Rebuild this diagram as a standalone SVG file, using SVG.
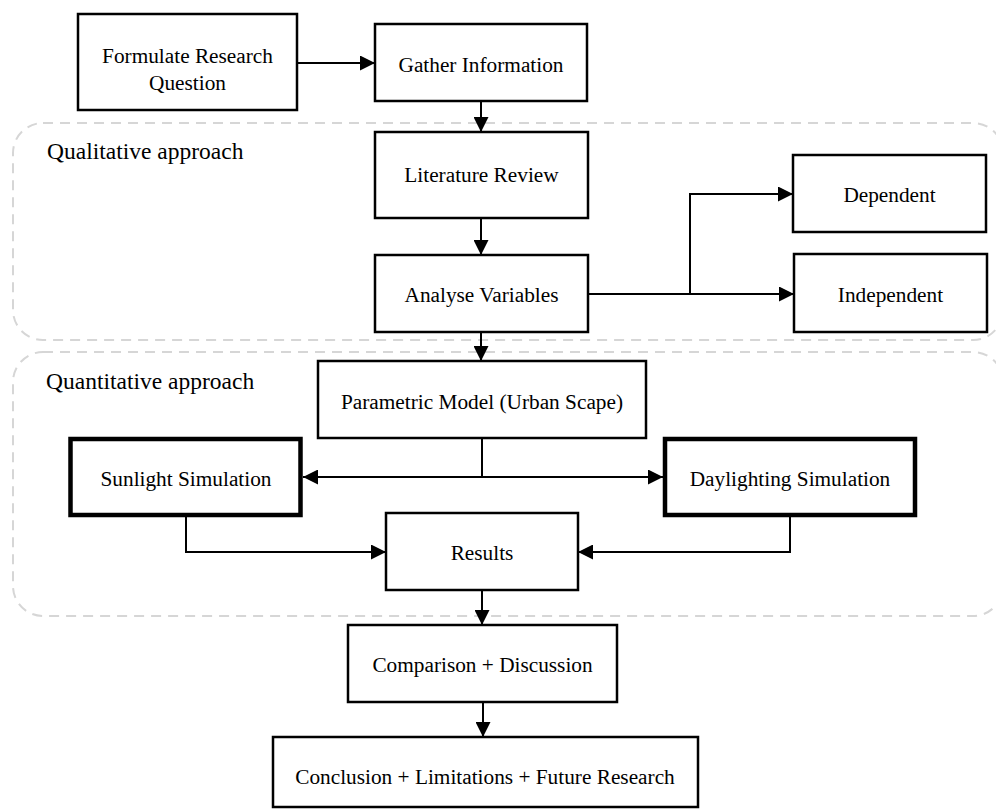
<svg xmlns="http://www.w3.org/2000/svg" width="996" height="809" viewBox="0 0 996 809">
<style>
.box{fill:#fff;stroke:#000;stroke-width:2.5}
.thick{fill:#fff;stroke:#000;stroke-width:4.5}
.region{fill:none;stroke:#d6d6d6;stroke-width:2;stroke-dasharray:10 7}
.t{font-family:"Liberation Serif","Times New Roman",serif;font-size:21.3px;fill:#000;text-anchor:middle}
.lbl{font-family:"Liberation Serif","Times New Roman",serif;font-size:23.5px;fill:#000}
.c{fill:none;stroke:#000;stroke-width:2}
</style>
<defs>
<marker id="ah" markerUnits="userSpaceOnUse" markerWidth="16" markerHeight="15" refX="15" refY="7.5" orient="auto">
<path d="M0,0 L15,7.5 L0,15 z" fill="#000"/>
</marker>
</defs>
<rect width="996" height="809" fill="#fff"/>
<g id="regions">
<rect id="qualitative" class="region" x="13" y="123" width="990" height="217" rx="30"/>
<rect id="quantitative" class="region" x="13" y="352" width="990" height="264" rx="30"/>
<text class="lbl" x="47" y="159">Qualitative approach</text>
<text class="lbl" x="46" y="389">Quantitative approach</text>
</g>
<g id="connectors">
<line class="c" x1="297" y1="63" x2="375" y2="63" marker-end="url(#ah)"/>
<line class="c" x1="481" y1="101" x2="481" y2="132" marker-end="url(#ah)"/>
<line class="c" x1="481" y1="218" x2="481" y2="255" marker-end="url(#ah)"/>
<polyline class="c" points="588,294 690,294 690,194 793,194" marker-end="url(#ah)"/>
<polyline class="c" points="588,294 794,294" marker-end="url(#ah)"/>
<line class="c" x1="481" y1="332" x2="481" y2="361" marker-end="url(#ah)"/>
<line class="c" x1="482" y1="438" x2="482" y2="477"/>
<line class="c" x1="482" y1="477" x2="303" y2="477" marker-end="url(#ah)"/>
<line class="c" x1="482" y1="477" x2="663" y2="477" marker-end="url(#ah)"/>
<polyline class="c" points="186,517 186,552 386,552" marker-end="url(#ah)"/>
<polyline class="c" points="790,517 790,552 578,552" marker-end="url(#ah)"/>
<line class="c" x1="482" y1="590" x2="482" y2="625" marker-end="url(#ah)"/>
<line class="c" x1="483" y1="702" x2="483" y2="737" marker-end="url(#ah)"/>
</g>
<g id="formulate">
<rect class="box" x="78" y="14" width="219" height="96"/>
<text class="t" x="187.5" y="63">Formulate Research</text>
<text class="t" x="187.5" y="90">Question</text>
</g>
<g id="gather">
<rect class="box" x="375" y="24" width="212" height="77"/>
<text class="t" x="481" y="72">Gather Information</text>
</g>
<g id="literature">
<rect class="box" x="375" y="132" width="213" height="86"/>
<text class="t" x="481.5" y="182">Literature Review</text>
</g>
<g id="analyse">
<rect class="box" x="375" y="255" width="213" height="77"/>
<text class="t" x="481.5" y="302">Analyse Variables</text>
</g>
<g id="dependent">
<rect class="box" x="793" y="155" width="193" height="77"/>
<text class="t" x="889.5" y="202">Dependent</text>
</g>
<g id="independent">
<rect class="box" x="794" y="254" width="193" height="78"/>
<text class="t" x="890.5" y="302">Independent</text>
</g>
<g id="parametric">
<rect class="box" x="318" y="361" width="328" height="77"/>
<text class="t" x="482" y="409">Parametric Model (Urban Scape)</text>
</g>
<g id="sunlight">
<rect class="thick" x="70.5" y="439" width="230" height="76"/>
<text class="t" x="186" y="486">Sunlight Simulation</text>
</g>
<g id="daylighting">
<rect class="thick" x="665" y="439" width="250" height="76"/>
<text class="t" x="790" y="486">Daylighting Simulation</text>
</g>
<g id="results">
<rect class="box" x="386" y="513" width="192" height="77"/>
<text class="t" x="482" y="560">Results</text>
</g>
<g id="comparison">
<rect class="box" x="348" y="625" width="269" height="77"/>
<text class="t" x="482.5" y="672">Comparison + Discussion</text>
</g>
<g id="conclusion">
<rect class="box" x="273" y="737" width="425" height="70"/>
<text class="t" x="485" y="784">Conclusion + Limitations + Future Research</text>
</g>
</svg>
